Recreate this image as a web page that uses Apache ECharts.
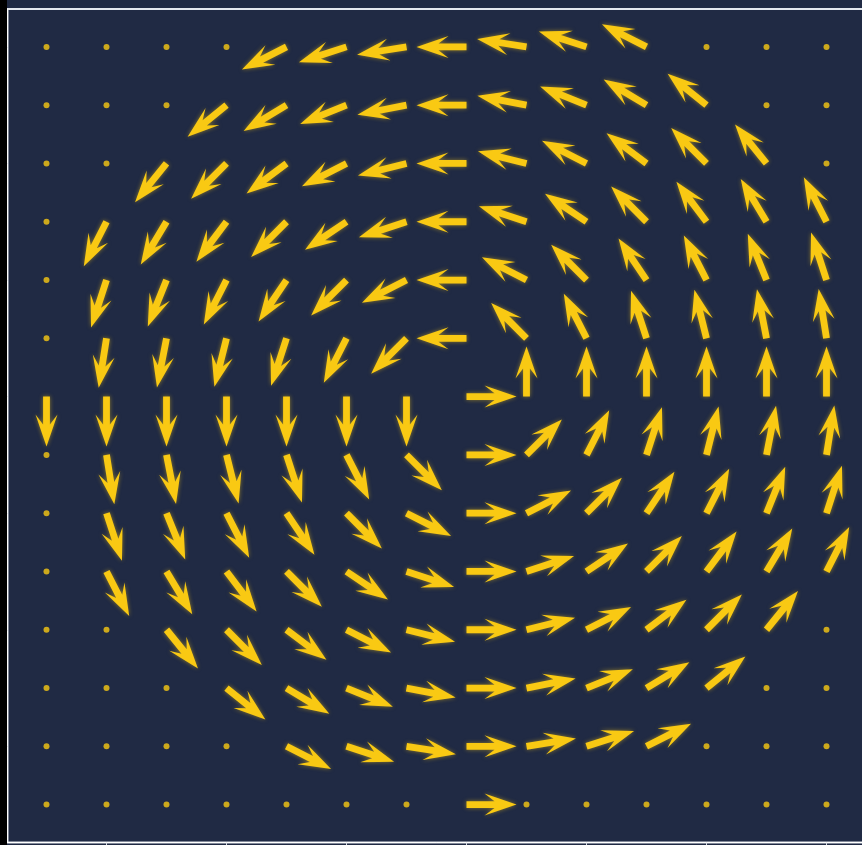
<!DOCTYPE html>
<html>
<head>
<meta charset="utf-8">
<script src="https://cdn.jsdelivr.net/npm/echarts@6/dist/echarts.min.js"></script>
<style>
  html, body { margin: 0; padding: 0; background: #000; width: 862px; height: 845px; overflow: hidden; }
  #chart { position: absolute; left: 7px; top: 0; width: 880px; height: 845px; }
</style>
</head>
<body>
<div id="chart"></div>
<script>
// Grid coordinates of the sample points
const xValues = [-7, -6, -5, -4, -3, -2, -1, 0, 1, 2, 3, 4, 5, 6];
const yValues = [6, 5, 4, 3, 2, 1, 0, -1, -2, -3, -4, -5, -6, -7];

// Flow direction at each sample point (degrees, counter-clockwise from +x).
// One row per y value, one column per x value; null marks a calm point.
const directionRows = [
  [null, null, null, null, 207, 198, 189, 180, 171, 162, 153, null, null, null],
  [null, null, null, 219, 211, 202, 191, 180, 169, 158, 149, 141, null, null],
  [null, null, 231, 225, 217, 207, 194, 180, 166, 153, 143, 135, 129, null],
  [null, 243, 239, 233, 225, 214, 198, 180, 162, 146, 135, 127, 121, 117],
  [null, 252, 248, 243, 236, 225, 207, 180, 153, 135, 124, 117, 112, 108],
  [null, 261, 259, 256, 252, 243, 225, 180, 135, 117, 108, 104, 101, 99],
  [270, 270, 270, 270, 270, 270, 270, 0, 90, 90, 90, 90, 90, 90],
  [null, 279, 281, 284, 288, 297, 315, 0, 45, 63, 72, 76, 79, 81],
  [null, 288, 292, 297, 304, 315, 333, 0, 27, 45, 56, 63, 68, 72],
  [null, 297, 301, 307, 315, 326, 342, 0, 18, 34, 45, 53, 59, 63],
  [null, null, 309, 315, 323, 333, 346, 0, 14, 27, 37, 45, 51, null],
  [null, null, null, 321, 329, 338, 349, 0, 11, 22, 31, 39, null, null],
  [null, null, null, null, 333, 342, 351, 0, 9, 18, 27, null, null, null],
  [null, null, null, null, null, null, null, 0, null, null, null, null, null, null]
];

// Tick positions on both axes
const xTicks = [-6, -4, -2, 0, 2, 4, 6];
const yTicks = [-6, -4, -2, 0, 2, 4, 6];

const ARROW_COLOR = '#f9c913';
const BG_COLOR = '#202a44';

// Split the grid into arrow points and calm points
const arrowData = [];
const calmData = [];
yValues.forEach((y, r) => {
  xValues.forEach((x, c) => {
    const dir = directionRows[r][c];
    if (dir === null) calmData.push([x, y]);
    else arrowData.push([x, y, dir]);
  });
});

// Arrow glyph pointing along +x, tail at the origin (pixels)
const ARROW_SHAPE = [
  [0, -3.4], [28, -3.4], [18, -11], [50, 0], [18, 11], [28, 3.4], [0, 3.4]
];

function renderArrow(params, api) {
  const p = api.coord([api.value(0), api.value(1)]);
  const angle = api.value(2) * Math.PI / 180;
  return {
    type: 'polygon',
    x: p[0],
    y: p[1],
    rotation: angle,
    shape: { points: ARROW_SHAPE },
    style: {
      fill: ARROW_COLOR,
      shadowBlur: 4,
      shadowColor: 'rgba(249, 201, 19, 0.5)'
    }
  };
}

const axisCommon = {
  type: 'value',
  min: -7.65,
  max: 6.65,
  splitLine: { show: false },
  axisLabel: { show: false },
  axisLine: { show: true, onZero: false, lineStyle: { color: '#ffffff', width: 1 } },
  axisTick: { show: true, length: 5, lineStyle: { color: '#d8dce4', width: 1 } }
};

const chart = echarts.init(document.getElementById('chart'), null, { renderer: 'canvas' });
chart.setOption({
  backgroundColor: BG_COLOR,
  animation: false,
  grid: {
    left: 0.5,
    top: 9,
    width: 858,
    height: 833.5,
    show: true,
    borderColor: '#e4e8ee',
    borderWidth: 2,
    backgroundColor: 'transparent',
    outerBoundsMode: 'none'
  },
  xAxis: Object.assign({}, axisCommon, {
    axisTick: Object.assign({}, axisCommon.axisTick, { customValues: xTicks })
  }),
  yAxis: Object.assign({}, axisCommon, {
    axisTick: Object.assign({}, axisCommon.axisTick, { customValues: yTicks })
  }),
  series: [
    {
      type: 'scatter',
      data: calmData,
      symbol: 'circle',
      symbolSize: 6,
      itemStyle: { color: ARROW_COLOR },
      silent: true
    },
    {
      type: 'custom',
      data: arrowData,
      renderItem: renderArrow,
      silent: true,
      encode: { x: 0, y: 1 }
    }
  ]
});
</script>
</body>
</html>
